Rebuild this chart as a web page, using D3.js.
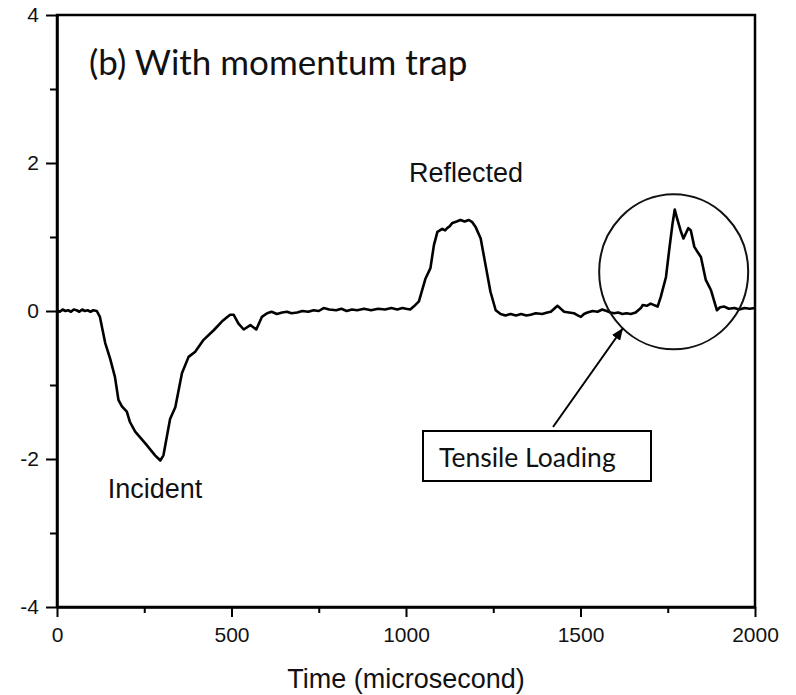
<!DOCTYPE html>
<html>
<head>
<meta charset="utf-8">
<script src="https://cdn.jsdelivr.net/npm/d3@7"></script>
<style>
  html, body { margin: 0; padding: 0; background: #fff; }
  svg { display: block; }
</style>
</head>
<body>
<svg id="chart" width="796" height="695"></svg>
<script>
// Strain gauge record: time (µs) and signal (V)
const timeUs = [0, 8, 16, 24, 32, 40, 48, 56, 64, 72, 80, 88, 96, 104, 114,
  123, 138, 152, 166, 176, 186, 200, 209, 224, 253, 281, 296, 305, 324, 339, 358, 377, 396, 420, 449, 473, 496, 506,
  520, 535, 554, 571, 587,
  602, 615, 630, 645, 659, 672, 688, 703, 720, 735, 750, 764, 780, 800, 815, 830, 845, 860, 880, 900, 920, 940, 958, 975, 990, 1000, 1012, 1022,
  1037, 1056, 1070, 1080, 1090, 1104, 1112, 1118, 1126, 1133, 1145, 1156, 1168, 1180, 1190, 1199, 1214, 1228, 1242, 1257,
  1271, 1285, 1300, 1315, 1330, 1345, 1357, 1372, 1390, 1405, 1415, 1434, 1453, 1467, 1481, 1492, 1501, 1510, 1520, 1535, 1549, 1562, 1575, 1586, 1596, 1608, 1620, 1632, 1644, 1658, 1673, 1678, 1690, 1701, 1711, 1721,
  1730, 1745, 1754, 1764, 1770, 1778, 1788, 1795, 1802, 1809, 1816, 1826, 1835, 1845, 1859, 1874, 1891,
  1900, 1912, 1925, 1941, 1955, 1970, 1985, 2000];
const signal = [0.01, -0.01, 0.02, 0.0, 0.01, -0.01, 0.02, 0.01, -0.01, 0.02, 0.0, 0.01, -0.01, 0.01, 0.0,
  -0.08, -0.43, -0.64, -0.89, -1.2, -1.29, -1.36, -1.5, -1.63, -1.79, -1.95, -2.02, -1.95, -1.46, -1.3, -0.84, -0.62, -0.55, -0.39, -0.26, -0.14, -0.05, -0.05,
  -0.17, -0.25, -0.19, -0.25, -0.08,
  -0.03, -0.01, -0.04, -0.02, -0.01, -0.03, -0.02, 0.0, -0.01, 0.01, 0.0, 0.04, 0.02, 0.01, 0.03, 0.0, 0.02, 0.01, 0.03, 0.01, 0.03, 0.02, 0.04, 0.02, 0.04, 0.03, 0.02, 0.06,
  0.13, 0.44, 0.58, 0.89, 1.07, 1.11, 1.09, 1.12, 1.15, 1.19, 1.21, 1.23, 1.21, 1.23, 1.2, 1.14, 0.98, 0.62, 0.26, 0.01,
  -0.04, -0.06, -0.04, -0.06, -0.04, -0.06, -0.05, -0.03, -0.04, -0.02, -0.01, 0.07, -0.01, -0.02, -0.03, -0.06, -0.08, -0.04, -0.02, 0.0, -0.01, 0.02, 0.0, -0.02, -0.03, -0.02, -0.04, -0.03, -0.04, -0.02, 0.04, 0.08, 0.07, 0.1, 0.08, 0.06,
  0.19, 0.46, 0.82, 1.19, 1.37, 1.23, 1.07, 0.98, 1.05, 1.12, 1.09, 0.87, 0.8, 0.73, 0.42, 0.28, 0.01,
  0.05, 0.06, 0.03, 0.04, 0.02, 0.04, 0.03, 0.04];

const xMajorTicks = [0, 500, 1000, 1500, 2000];
const xMinorTicks = [250, 750, 1250, 1750];
const yMajorTicks = [-4, -2, 0, 2, 4];
const yMinorTicks = [-3, -1, 1, 3];

const panelTitle = "(b) With momentum trap";
const xTitle = "Time (microsecond)";
const incidentLabel = "Incident";
const reflectedLabel = "Reflected";
const calloutLabel = "Tensile Loading";
// region of interest ringed on the plot (time, signal)
const ringCenter = [1767, 0.53];

const svg = d3.select("#chart");
const plotL = 57, plotR = 755, plotT = 15, plotB = 607;

const x = d3.scaleLinear().domain([0, 2000]).range([plotL, plotR]);
const y = d3.scaleLinear().domain([-4, 4]).range([plotB, plotT]);

const armFont = "'Liberation Sans', Arial, sans-serif";
const humanFont = "Lato, 'Open Sans', sans-serif";
const plainInt = d => String(d); // hyphen-minus for negatives

svg.append("rect").attr("width", 796).attr("height", 695).attr("fill", "#fff");

// x axis (bottom) with major + minor ticks
svg.append("g").attr("transform", `translate(0,${plotB})`)
  .call(d3.axisBottom(x).tickValues(xMajorTicks).tickSize(10).tickSizeOuter(0).tickPadding(10).tickFormat(plainInt));
svg.append("g").attr("transform", `translate(0,${plotB})`)
  .call(d3.axisBottom(x).tickValues(xMinorTicks).tickSize(6).tickSizeOuter(0).tickFormat(""))
  .call(g => g.select(".domain").remove());

// y axis (left) with major + minor ticks
svg.append("g").attr("transform", `translate(${plotL},0)`)
  .call(d3.axisLeft(y).tickValues(yMajorTicks).tickSize(11).tickSizeOuter(0).tickPadding(7).tickFormat(plainInt));
svg.append("g").attr("transform", `translate(${plotL},0)`)
  .call(d3.axisLeft(y).tickValues(yMinorTicks).tickSize(7).tickSizeOuter(0).tickFormat(""))
  .call(g => g.select(".domain").remove());

svg.selectAll(".tick line").attr("stroke", "#000").attr("stroke-width", 2);
svg.selectAll(".domain").attr("stroke", "#000").attr("stroke-width", 2.5);
svg.selectAll(".tick text").attr("font-family", armFont).attr("font-size", 21).attr("fill", "#111");

// frame around the plotting area
svg.append("rect")
  .attr("x", plotL).attr("y", plotT)
  .attr("width", plotR - plotL).attr("height", plotB - plotT)
  .attr("fill", "none").attr("stroke", "#000").attr("stroke-width", 2.5);

// signal trace
const line = d3.line().x((d, i) => x(timeUs[i])).y(d => y(d));
svg.append("path")
  .datum(signal)
  .attr("fill", "none")
  .attr("stroke", "#000")
  .attr("stroke-width", 2.6)
  .attr("stroke-linejoin", "round")
  .attr("d", line);

// titles and labels
svg.append("text").attr("x", x(0) + 32).attr("y", 75)
  .attr("font-family", humanFont).attr("font-size", 35).attr("fill", "#111")
  .text(panelTitle);

svg.append("text").attr("x", (plotL + plotR) / 2).attr("y", 688)
  .attr("text-anchor", "middle")
  .attr("font-family", armFont).attr("font-size", 27).attr("fill", "#111")
  .text(xTitle);

svg.append("text").attr("x", 155).attr("y", 498)
  .attr("text-anchor", "middle")
  .attr("font-family", armFont).attr("font-size", 27).attr("fill", "#111")
  .text(incidentLabel);

svg.append("text").attr("x", 466).attr("y", 182)
  .attr("text-anchor", "middle")
  .attr("font-family", armFont).attr("font-size", 27).attr("fill", "#111")
  .text(reflectedLabel);

// ring around the tensile pulse
svg.append("ellipse")
  .attr("cx", x(ringCenter[0])).attr("cy", y(ringCenter[1]))
  .attr("rx", 74.5).attr("ry", 77.5)
  .attr("fill", "none").attr("stroke", "#111").attr("stroke-width", 2);

// callout box with arrow
svg.append("defs").append("marker")
  .attr("id", "arrowHead")
  .attr("viewBox", "0 0 12 10")
  .attr("refX", 12).attr("refY", 5)
  .attr("markerWidth", 12).attr("markerHeight", 10)
  .attr("markerUnits", "userSpaceOnUse")
  .attr("orient", "auto")
  .append("path").attr("d", "M0,0 L12,5 L0,10 Z").attr("fill", "#000");

svg.append("line")
  .attr("x1", 553).attr("y1", 427)
  .attr("x2", 623).attr("y2", 328)
  .attr("stroke", "#000").attr("stroke-width", 2)
  .attr("marker-end", "url(#arrowHead)");

svg.append("rect")
  .attr("x", 423).attr("y", 431).attr("width", 228).attr("height", 50)
  .attr("fill", "#fff").attr("stroke", "#000").attr("stroke-width", 2);

svg.append("text").attr("x", 439).attr("y", 467)
  .attr("font-family", humanFont).attr("font-size", 26.5).attr("fill", "#111")
  .text(calloutLabel);
</script>
</body>
</html>
